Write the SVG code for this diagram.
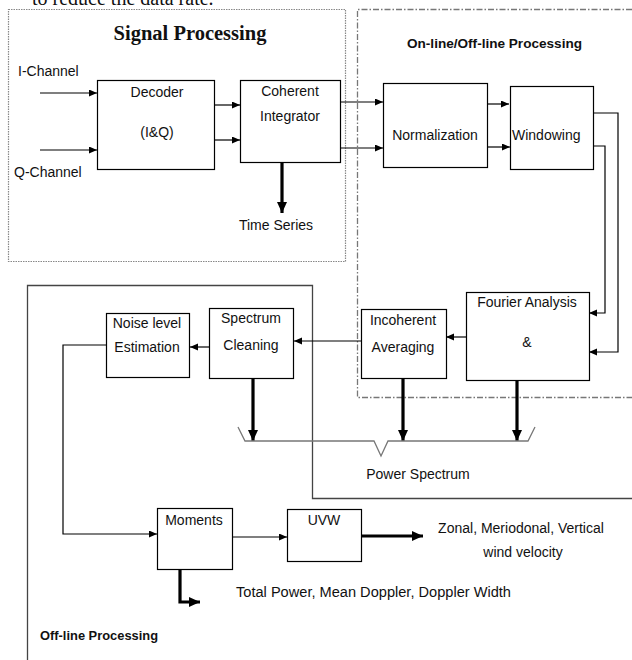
<svg xmlns="http://www.w3.org/2000/svg" width="632" height="660" viewBox="0 0 632 660">
<style>
  .box { fill: #fff; stroke: #000; stroke-width: 1.2; }
  .t { font-family: "Liberation Sans", Arial, sans-serif; font-size: 14px; fill: #111; }
  .c { text-anchor: middle; }
  .b { font-family: "Liberation Sans", Arial, sans-serif; font-weight: bold; fill: #111; }
  .thin { fill: none; stroke: #000; stroke-width: 1.2; }
  .thick { fill: none; stroke: #000; stroke-width: 3.2; }
</style>
<defs>
  <marker id="ah" markerUnits="userSpaceOnUse" markerWidth="9" markerHeight="8" refX="8" refY="3.5" orient="auto">
    <path d="M0,0 L8,3.5 L0,7 z" fill="#000"/>
  </marker>
  <marker id="ahb" markerUnits="userSpaceOnUse" markerWidth="12" markerHeight="11" refX="11" refY="5" orient="auto">
    <path d="M0,0 L11,5 L0,10 z" fill="#000"/>
  </marker>
</defs>
<rect width="632" height="660" fill="#fff"/>
<text x="32" y="5" font-family="'Liberation Serif', serif" font-size="20" fill="#111">to reduce the data rate.</text>

<g id="regions">
  <rect x="8.5" y="9.5" width="337" height="252" fill="none" stroke="#888" stroke-width="1.2" stroke-dasharray="1.5,1"/>
  <path d="M632,9.5 L357.5,9.5 L357.5,397.5 L632,397.5" fill="none" stroke="#777" stroke-width="1.3" stroke-dasharray="6,2,1.5,2"/>
  <polyline points="27.5,660 27.5,285.5 312.5,285.5 312.5,498.5 632,498.5" fill="none" stroke="#444" stroke-width="1.3"/>
  <text x="190" y="40" class="c" font-family="'Liberation Serif', serif" font-weight="bold" font-size="20.5" fill="#111">Signal Processing</text>
  <text x="407" y="48" class="b" font-size="13.5" textLength="175" lengthAdjust="spacingAndGlyphs">On-line/Off-line Processing</text>
  <text x="40" y="640" class="b" font-size="13" textLength="118" lengthAdjust="spacingAndGlyphs">Off-line Processing</text>
</g>

<g id="connectors">
  <line x1="40" y1="93" x2="97" y2="93" class="thin" marker-end="url(#ah)"/>
  <line x1="40" y1="150" x2="97" y2="150" class="thin" marker-end="url(#ah)"/>
  <line x1="215" y1="105" x2="240" y2="105" class="thin" marker-end="url(#ah)"/>
  <line x1="214" y1="140" x2="240" y2="140" class="thin" marker-end="url(#ah)"/>
  <line x1="340" y1="102" x2="383" y2="102" class="thin" marker-end="url(#ah)"/>
  <line x1="340" y1="148" x2="383" y2="148" class="thin" marker-end="url(#ah)"/>
  <line x1="488" y1="104" x2="509" y2="104" class="thin" marker-end="url(#ah)"/>
  <line x1="487" y1="147" x2="510" y2="147" class="thin" marker-end="url(#ah)"/>
  <polyline points="593,113 618,113 618,352 589,352" class="thin" marker-end="url(#ah)"/>
  <polyline points="593,146 605,146 605,313 589,313" class="thin" marker-end="url(#ah)"/>
  <line x1="466" y1="337" x2="446" y2="337" class="thin" marker-end="url(#ah)"/>
  <line x1="361" y1="341" x2="294" y2="341" class="thin" marker-end="url(#ah)"/>
  <line x1="209" y1="347" x2="190" y2="347" class="thin" marker-end="url(#ah)"/>
  <polyline points="106,345 63,345 63,534 157,534" class="thin" marker-end="url(#ah)"/>
  <line x1="232" y1="537" x2="287" y2="537" class="thin" marker-end="url(#ah)"/>
  <line x1="282" y1="163" x2="282" y2="213" class="thick" marker-end="url(#ahb)"/>
  <line x1="253" y1="378" x2="253" y2="441" class="thick" marker-end="url(#ahb)"/>
  <line x1="403" y1="378" x2="403" y2="441" class="thick" marker-end="url(#ahb)"/>
  <line x1="517" y1="380" x2="517" y2="441" class="thick" marker-end="url(#ahb)"/>
  <line x1="362" y1="536" x2="423" y2="536" class="thick" marker-end="url(#ahb)"/>
  <polyline points="180,569 180,602 200,602" class="thick" marker-end="url(#ahb)"/>
  <path d="M238,427 L245,441 L374,441 L381,456 L388,441 L528,441 L535,427" fill="none" stroke="#777" stroke-width="1.3"/>
</g>

<g id="labels">
  <text x="18" y="76" class="t">I-Channel</text>
  <text x="14" y="177" class="t">Q-Channel</text>
  <text x="276" y="230" class="c t">Time Series</text>
  <text x="418" y="479" class="c t">Power Spectrum</text>
  <text x="236" y="597" class="t" textLength="275" lengthAdjust="spacingAndGlyphs">Total Power, Mean Doppler, Doppler Width</text>
  <text x="521" y="533" class="c t">Zonal, Meriodonal, Vertical</text>
  <text x="523" y="557" class="c t">wind velocity</text>
</g>

<g id="decoder">
  <rect x="97.5" y="80.5" width="117" height="89" class="box"/>
  <text x="157" y="97" class="c t">Decoder</text>
  <text x="157" y="137" class="c t">(I&amp;Q)</text>
</g>
<g id="coherent">
  <rect x="240.5" y="80.5" width="100" height="82" class="box"/>
  <text x="290" y="96" class="c t">Coherent</text>
  <text x="290" y="121" class="c t">Integrator</text>
</g>
<g id="normalization">
  <rect x="383.5" y="83.5" width="104" height="84" class="box"/>
  <text x="435" y="140" class="c t">Normalization</text>
</g>
<g id="windowing">
  <rect x="510.5" y="86.5" width="83" height="83" class="box"/>
  <text x="512" y="140" class="t">Windowing</text>
</g>
<g id="fourier">
  <rect x="466.5" y="292.5" width="123" height="88" class="box"/>
  <text x="527" y="307" class="c t">Fourier Analysis</text>
  <text x="527" y="347" class="c t">&amp;</text>
</g>
<g id="incoherent">
  <rect x="361.5" y="309.5" width="85" height="69" class="box"/>
  <text x="403" y="325" class="c t">Incoherent</text>
  <text x="403" y="352" class="c t">Averaging</text>
</g>
<g id="spectrum-cleaning">
  <rect x="209.5" y="308.5" width="84" height="70" class="box"/>
  <text x="251" y="323" class="c t">Spectrum</text>
  <text x="251" y="350" class="c t">Cleaning</text>
</g>
<g id="noise">
  <rect x="106.5" y="313.5" width="83" height="64" class="box"/>
  <text x="147" y="328" class="c t">Noise level</text>
  <text x="147" y="352" class="c t">Estimation</text>
</g>
<g id="moments">
  <rect x="157.5" y="508.5" width="75" height="61" class="box"/>
  <text x="194" y="525" class="c t">Moments</text>
</g>
<g id="uvw">
  <rect x="287.5" y="509.5" width="74" height="52" class="box"/>
  <text x="324" y="525" class="c t">UVW</text>
</g>
</svg>
